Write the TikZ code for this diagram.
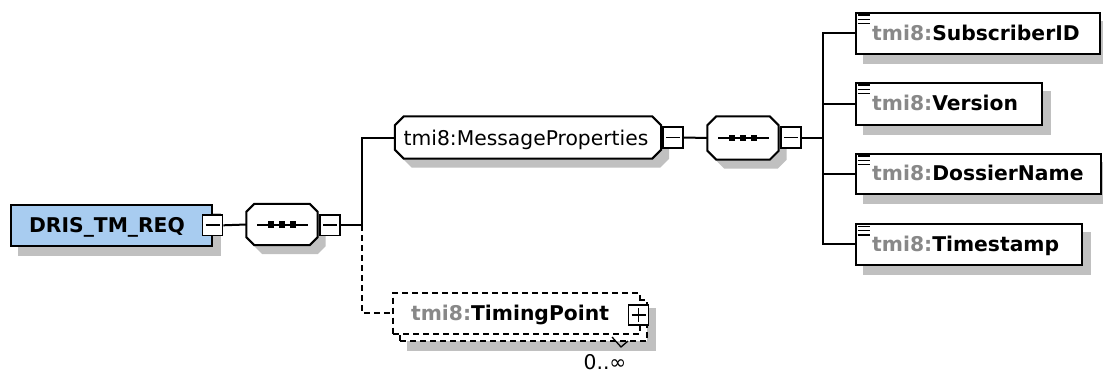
\documentclass[tikz,border=0pt]{standalone}
\usepackage{fontspec}
\setmainfont{DejaVu Sans}
\definecolor{dtblue}{RGB}{168,204,240}
\definecolor{shadowgray}{RGB}{192,192,192}
\definecolor{pfxgray}{RGB}{136,136,136}
\pgfdeclarelayer{paper}\pgfdeclarelayer{shad}\pgfdeclarelayer{bgl}
\pgfsetlayers{paper,shad,bgl,main}
\newcommand\octpath[4]{([xshift=#2+#3,yshift=#4]#1.north west) -- ([xshift=-#2+#3,yshift=#4]#1.north east) -- ([xshift=#3,yshift=-#2+#4]#1.north east) -- ([xshift=#3,yshift=#2+#4]#1.south east) -- ([xshift=-#2+#3,yshift=#4]#1.south east) -- ([xshift=#2+#3,yshift=#4]#1.south west) -- ([xshift=#3,yshift=#2+#4]#1.south west) -- ([xshift=#3,yshift=-#2+#4]#1.north west) -- cycle}
\newcommand\octagonbox[2]{%
 \begin{pgfonlayer}{shad}\fill[shadowgray] \octpath{#1}{#2}{8pt}{(-9pt)};\end{pgfonlayer}
 \begin{pgfonlayer}{bgl}\filldraw[fill=white,draw=black,line width=2pt] \octpath{#1}{#2}{0pt}{0pt};\end{pgfonlayer}}
\newcommand\rshadow[1]{%
 \begin{pgfonlayer}{shad}\fill[shadowgray] ([xshift=8pt,yshift=-9pt]#1.north west) rectangle ([xshift=8pt,yshift=-9pt]#1.south east);\end{pgfonlayer}}
\newcommand\seqdots[1]{%
 \draw[line width=2pt] ([xshift=-25pt]#1.center) -- ([xshift=26pt]#1.center);
 \foreach \d in {-11,0,11} {\fill ([xshift=\d pt-3.2pt,yshift=-3.2pt]#1.center) rectangle ([xshift=\d pt+3.2pt,yshift=3.2pt]#1.center);}}
\newcommand\docicon[1]{%
 \foreach \d in {3.5,7.8,12} {\draw[line width=1.5pt] ([xshift=3pt,yshift=-\d pt]#1.north west) -- ([xshift=15pt,yshift=-\d pt]#1.north west);}}
\tikzset{
 txt/.style={inner sep=0pt, anchor=base, font=\fontsize{20.3}{24}\selectfont},
 btxt/.style={txt, font=\fontsize{20.3}{24}\selectfont\bfseries},
 ghost/.style={inner sep=0pt, draw=none},
 elem/.style={draw, fill=white, line width=2pt, inner sep=0pt},
 pmbox/.style={draw, fill=white, line width=1.7pt, inner sep=0pt, minimum width=20pt, minimum height=20.5pt},
 minusbox/.style={pmbox, path picture={\draw[line width=1.7pt] ([xshift=3pt]path picture bounding box.west) -- ([xshift=-3pt]path picture bounding box.east);}},
 plusbox/.style={pmbox, path picture={\draw[line width=1.7pt] ([xshift=3pt]path picture bounding box.west) -- ([xshift=-3pt]path picture bounding box.east);
   \draw[line width=1.7pt] ([yshift=-3pt]path picture bounding box.north) -- ([yshift=3pt]path picture bounding box.south);}},
 conn/.style={line width=2pt},
 dconn/.style={line width=2pt, dash pattern=on 6pt off 4pt},
}
\begin{document}
\begin{tikzpicture}[x=1pt,y=-1pt]
\begin{pgfonlayer}{paper}\fill[white] (0,0) rectangle (1103,373);\end{pgfonlayer}
\useasboundingbox (0,0) rectangle (1103,373);

% root element
\node[elem, fill=dtblue, minimum width=201pt, minimum height=41pt] (root) at (111.3,225.3) {};
\rshadow{root}
\node[btxt] (roott) at (107,232.5) {DRIS\_TM\_REQ};
\node[minusbox] (m1) at (212.5,225.3) {};

% first sequence
\node[ghost, minimum width=71pt, minimum height=41pt] (s1) at (282,224.5) {};
\octagonbox{s1}{8pt}
\seqdots{s1}
\node[minusbox] (m2) at (330,225.3) {};

% MessageProperties
\node[ghost, minimum width=266pt, minimum height=42pt] (mp) at (528,137.5) {};
\octagonbox{mp}{9pt}
\node[txt] (mpt) at (526,145.3) {tmi8:MessageProperties};
\node[minusbox] (m3) at (673.3,137.5) {};

% second sequence
\node[ghost, minimum width=71pt, minimum height=43pt] (s2) at (743,138) {};
\octagonbox{s2}{9pt}
\seqdots{s2}
\node[minusbox] (m4) at (791,137.5) {};

% children
\node[elem, minimum width=244pt, minimum height=41pt] (c1) at (977.5,33) {};
\rshadow{c1}
\node[elem, minimum width=186pt, minimum height=42pt] (c2) at (948.5,103.5) {};
\rshadow{c2}
\node[elem, minimum width=245pt, minimum height=40pt] (c3) at (978,173.5) {};
\rshadow{c3}
\node[elem, minimum width=226pt, minimum height=41pt] (c4) at (968.5,244.3) {};
\rshadow{c4}
\docicon{c1}\docicon{c2}\docicon{c3}\docicon{c4}
\node[btxt, anchor=base west] (c1t) at (872,40.3) {\textcolor{pfxgray}{tmi8:}SubscriberID};
\node[btxt, anchor=base west] (c2t) at (872,110.8) {\textcolor{pfxgray}{tmi8:}Version};
\node[btxt, anchor=base west] (c3t) at (872,180.8) {\textcolor{pfxgray}{tmi8:}DossierName};
\node[btxt, anchor=base west] (c4t) at (872,251.5) {\textcolor{pfxgray}{tmi8:}Timestamp};

% TimingPoint (multiple occurrence)
\node[draw, dconn, fill=white, inner sep=0pt, minimum width=247pt, minimum height=41pt] (tpb) at (523.5,320.5) {};
\rshadow{tpb}
\node[draw, dconn, fill=white, inner sep=0pt, minimum width=247pt, minimum height=41pt] (tp) at (516.7,313) {};
\node[btxt] (tpt) at (510,320.5) {\textcolor{pfxgray}{tmi8:}TimingPoint};
\node[plusbox] (p1) at (638.5,315) {};
\draw[line width=1.3pt] (612,337) -- (621,347) -- (628,341);
\node[txt] (occ) at (605,369.5) {0..∞};

% connectors
\coordinate (j1) at (361.5,225.3);
\coordinate (j2) at (822.7,137.5);
\draw[conn] (m1.east) -- (s1.west);
\draw[conn] (m2.east) -- (j1) |- (mp.west);
\draw[dconn] (j1) |- (tp.west);
\draw[conn] (m3.east) -- (s2.west);
\draw[conn] (m4.east) -- (j2);
\draw[conn] (j2) |- (c1.west);
\draw[conn] (j2) |- (c2.west);
\draw[conn] (j2) |- (c3.west);
\draw[conn] (j2) |- (c4.west);
\end{tikzpicture}
\end{document}
